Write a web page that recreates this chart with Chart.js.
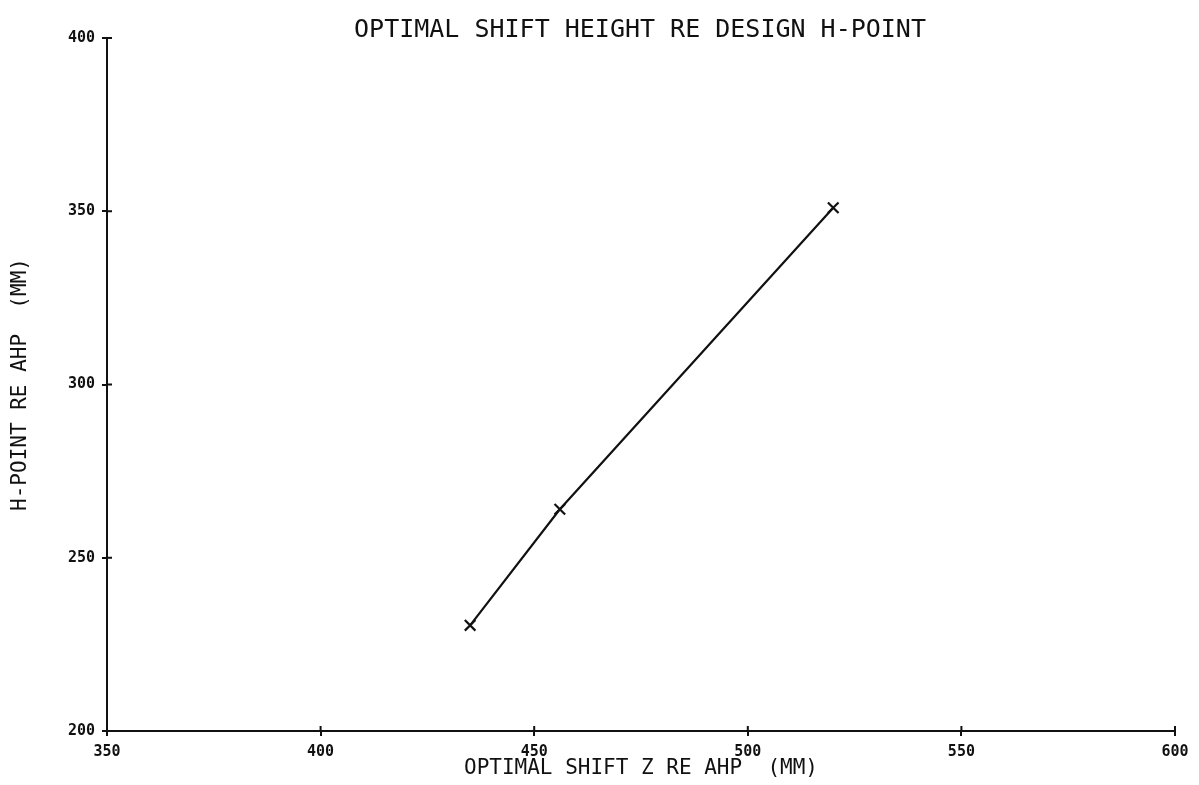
<!DOCTYPE html>
<html>
<head>
<meta charset="utf-8">
<script src="https://cdn.jsdelivr.net/npm/chart.js@4.4.1/dist/chart.umd.min.js"></script>
<style>
  html, body { margin: 0; padding: 0; background: #fff; }
  #wrap { width: 1199px; height: 785px; position: relative; }
</style>
</head>
<body>
<div id="wrap"><canvas id="c" width="1199" height="785"></canvas></div>
<script>
// Optimal shift position measured relative to the design H-point
const shiftZ = [435, 456, 520];          // optimal shift Z re AHP (mm)
const hPointHeight = [230.5, 264, 351];  // H-point re AHP (mm)
const xTicks = [350, 400, 450, 500, 550, 600];
const yTicks = [200, 250, 300, 350, 400];

const chartTitle = 'OPTIMAL SHIFT HEIGHT RE DESIGN H-POINT';
const xTitle = 'OPTIMAL SHIFT Z RE AHP  (MM)';
const yTitle = 'H-POINT RE AHP  (MM)';

const points = shiftZ.map((x, i) => ({ x: x, y: hPointHeight[i] }));

const ink = '#111';
const plotFont = "'DejaVu Sans Mono', 'Liberation Mono', monospace";

// Title is drawn centred over the plot area
const titlePlugin = {
  id: 'plotTitle',
  afterDraw(chart) {
    const ctx = chart.ctx;
    ctx.save();
    ctx.fillStyle = ink;
    ctx.font = "25px " + plotFont;
    ctx.textAlign = 'center';
    ctx.textBaseline = 'middle';
    ctx.fillText(chartTitle, 640, 30);
    ctx.restore();
  }
};

// Short tick marks on the inner side of each axis, so ticks cross the axis lines
const innerTicks = {
  id: 'innerTicks',
  afterDatasetsDraw(chart) {
    const ctx = chart.ctx;
    const a = chart.chartArea;
    const xs = chart.scales.x, ys = chart.scales.y;
    ctx.save();
    ctx.strokeStyle = ink;
    ctx.lineWidth = 2;
    ctx.beginPath();
    xTicks.forEach(v => { const px = xs.getPixelForValue(v); ctx.moveTo(px, a.bottom); ctx.lineTo(px, a.bottom - 5); });
    yTicks.forEach(v => { const py = ys.getPixelForValue(v); ctx.moveTo(a.left, py); ctx.lineTo(a.left + 5, py); });
    ctx.stroke();
    ctx.restore();
  }
};

new Chart(document.getElementById('c'), {
  type: 'scatter',
  data: {
    datasets: [{
      data: points,
      showLine: true,
      borderColor: ink,
      borderWidth: 2.2,
      pointStyle: 'crossRot',
      pointRadius: 7.5,
      pointBorderWidth: 2.2,
      pointBorderColor: ink,
      fill: false
    }]
  },
  options: {
    responsive: false,
    animation: false,
    layout: { padding: { left: 0, right: 24, top: 38, bottom: 0 } },
    plugins: { legend: { display: false }, tooltip: { enabled: false } },
    scales: {
      x: {
        type: 'linear',
        min: 350, max: 600,
        afterBuildTicks(scale) { scale.ticks = xTicks.map(v => ({ value: v })); },
        afterFit(scale) { scale.height = 54; },
        grid: { display: true, drawOnChartArea: false, drawTicks: true, tickLength: 5, color: ink, lineWidth: 2 },
        border: { display: true, color: ink, width: 2 },
        ticks: {
          color: ink, padding: 7, maxRotation: 0,
          font: { family: plotFont, size: 15, weight: 'bold' }
        },
        title: {
          display: true, text: xTitle, color: ink, padding: { top: 0, bottom: 4 },
          font: { family: plotFont, size: 21 }
        }
      },
      y: {
        type: 'linear',
        min: 200, max: 400,
        afterBuildTicks(scale) { scale.ticks = yTicks.map(v => ({ value: v })); },
        afterFit(scale) { scale.width = 107; },
        grid: { display: true, drawOnChartArea: false, drawTicks: true, tickLength: 5, color: ink, lineWidth: 2 },
        border: { display: true, color: ink, width: 2 },
        ticks: {
          color: ink, padding: 7,
          font: { family: plotFont, size: 15, weight: 'bold' }
        },
        title: {
          display: true, text: yTitle, color: ink, padding: { top: 8, bottom: 0 },
          font: { family: plotFont, size: 21 }
        }
      }
    }
  },
  plugins: [titlePlugin, innerTicks]
});
</script>
</body>
</html>
